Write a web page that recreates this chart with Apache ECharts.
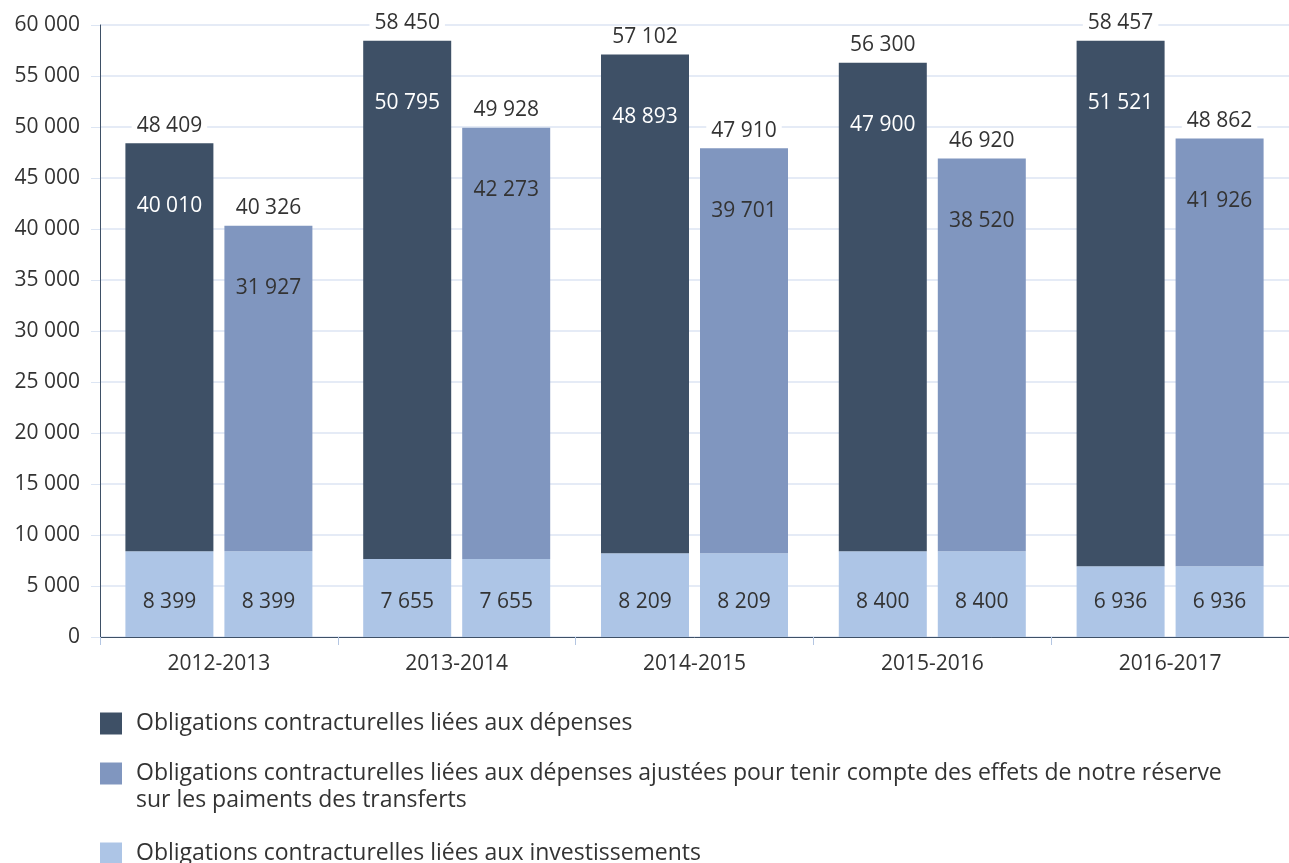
<!DOCTYPE html>
<html>
<head>
<meta charset="utf-8">
<script src="https://cdn.jsdelivr.net/npm/echarts@6/dist/echarts.min.js"></script>
<style>
  html, body { margin: 0; padding: 0; background: #fff; }
  #chart { width: 1289px; height: 863px; }
</style>
</head>
<body>
<div id="chart"></div>
<script>
var years = ["2012-2013", "2013-2014", "2014-2015", "2015-2016", "2016-2017"];
var investissements = [8399, 7655, 8209, 8400, 6936];
var depenses = [40010, 50795, 48893, 47900, 51521];
var depensesAjustees = [31927, 42273, 39701, 38520, 41926];
var yTicks = [0, 5000, 10000, 15000, 20000, 25000, 30000, 35000, 40000, 45000, 50000, 55000, 60000];

var nameDep = "Obligations contracturelles liées aux dépenses";
var nameAdj = "Obligations contracturelles liées aux dépenses ajustées pour tenir compte des effets de notre réserve\nsur les paiments des transferts";
var nameInv = "Obligations contracturelles liées aux investissements";

var dark = "#3e5066";
var mid = "#8096bf";
var light = "#adc5e6";
var gridColor = "#dce5f3";
var font = "Open Sans";

function fmt(v) {
  return String(v).replace(/\B(?=(\d{3})+(?!\d))/g, " ");
}

var zeros = years.map(function () { return 0; });

var chartDom = document.getElementById("chart");
var myChart = echarts.init(chartDom, null, { renderer: "canvas" });
var option;

var legendText = { fontSize: 23, color: "#333", fontFamily: font, lineHeight: 27, padding: [0, 0, 0, 9] };

option = {
  animation: false,
  textStyle: { fontFamily: font },
  grid: { left: 100, right: 0, top: 25, bottom: 226 },
  legend: [
    {
      data: [nameDep], left: 100, top: 710, orient: "vertical", padding: 0,
      itemWidth: 22, itemHeight: 22, icon: "rect", textStyle: legendText
    },
    {
      // blank first line keeps the square level with the first text line
      data: [nameAdj], left: 100, top: 733, orient: "vertical", padding: 0,
      itemWidth: 22, itemHeight: 22, icon: "rect", textStyle: legendText,
      formatter: function (name) { return "\n" + name; }
    },
    {
      data: [nameInv], left: 100, top: 840, orient: "vertical", padding: 0,
      itemWidth: 22, itemHeight: 22, icon: "rect", textStyle: legendText
    }
  ],
  xAxis: {
    type: "category",
    data: years,
    axisLine: { lineStyle: { color: dark, width: 1 } },
    axisTick: { show: true, length: 8, lineStyle: { color: "#b4c6e2" } },
    axisLabel: { fontSize: 21, color: "#333", margin: 17, fontFamily: font }
  },
  yAxis: {
    type: "value",
    min: yTicks[0],
    max: yTicks[yTicks.length - 1],
    interval: yTicks[1] - yTicks[0],
    axisLine: { show: true, lineStyle: { color: dark } },
    axisTick: { show: true, length: 9, lineStyle: { color: gridColor } },
    splitLine: { lineStyle: { color: gridColor, width: 1.5 } },
    axisLabel: {
      fontSize: 21, color: "#333", margin: 20, fontFamily: font,
      formatter: function (v) { return fmt(v); }
    }
  },
  series: [
    {
      name: nameInv, type: "bar", stack: "a", barWidth: 88, barGap: "12.5%",
      data: investissements,
      itemStyle: { color: light },
      label: { show: true, position: "insideBottom", distance: 24, fontSize: 21, color: "#333",
        formatter: function (p) { return fmt(p.value); } }
    },
    {
      name: nameDep, type: "bar", stack: "a", barWidth: 88,
      data: depenses,
      itemStyle: { color: dark },
      label: { show: true, position: "insideTop", distance: 52, fontSize: 21, color: "#fff",
        formatter: function (p) { return fmt(p.value); } }
    },
    {
      name: "total1", type: "bar", stack: "a", barWidth: 88,
      data: zeros,
      itemStyle: { color: dark },
      label: { show: true, position: "top", distance: 7, fontSize: 21, color: "#333",
        backgroundColor: "#fff", padding: [0, 5],
        formatter: function (p) { return fmt(investissements[p.dataIndex] + depenses[p.dataIndex]); } }
    },
    {
      name: nameInv, type: "bar", stack: "b", barWidth: 88,
      data: investissements,
      itemStyle: { color: light },
      label: { show: true, position: "insideBottom", distance: 24, fontSize: 21, color: "#333",
        formatter: function (p) { return fmt(p.value); } }
    },
    {
      name: nameAdj, type: "bar", stack: "b", barWidth: 88,
      data: depensesAjustees,
      itemStyle: { color: mid },
      label: { show: true, position: "insideTop", distance: 52, fontSize: 21, color: "#333",
        formatter: function (p) { return fmt(p.value); } }
    },
    {
      name: "total2", type: "bar", stack: "b", barWidth: 88,
      data: zeros,
      itemStyle: { color: mid },
      label: { show: true, position: "top", distance: 7, fontSize: 21, color: "#333",
        backgroundColor: "#fff", padding: [0, 5],
        formatter: function (p) { return fmt(investissements[p.dataIndex] + depensesAjustees[p.dataIndex]); } }
    }
  ]
};
option && myChart.setOption(option);
window.addEventListener("resize", function () {
  myChart.resize();
});
</script>
</body>
</html>
